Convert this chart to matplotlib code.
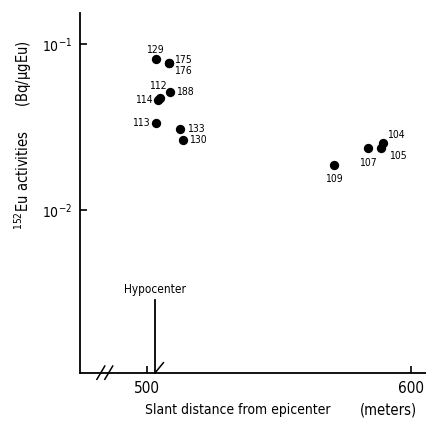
import matplotlib
matplotlib.use("Agg")
import matplotlib.pyplot as plt
import matplotlib.ticker as mticker

plt.rcParams['font.family'] = ['DejaVu Sans']
plt.rcParams['font.stretch'] = 'condensed'
plt.rcParams['mathtext.fontset'] = 'custom'
plt.rcParams['mathtext.rm'] = 'DejaVu Sans:stretch=condensed'
plt.rcParams['mathtext.it'] = 'DejaVu Sans:stretch=condensed'
plt.rcParams['mathtext.bf'] = 'DejaVu Sans:stretch=condensed:bold'

# Data
sample_ids = ['129', '175', '176', '188', '112', '114', '113', '133', '130',
              '109', '107', '104', '105']
slant_distance = [503.4, 508.3, 508.3, 508.8, 504.8, 504.2, 503.4, 512.6, 513.5,
                  570.7, 583.7, 589.4, 588.8]
eu_activity = [0.0812, 0.0769, 0.0769, 0.0512, 0.0472, 0.0460, 0.0336, 0.0306, 0.0263,
               0.0188, 0.0236, 0.0252, 0.0236]
x_ticks = [500, 600]
y_ticks = [0.1, 0.01]
y_tick_labels = ['10$^{-1}$', '10$^{-2}$']
hypocenter_x = 503.0

# label offsets in pixels (dx, dy, ha)
offsets = {
    '129': (-1, 9, 'center'),
    '175': (5, 3, 'left'),
    '176': (5, -8, 'left'),
    '188': (6, 0, 'left'),
    '112': (-2, 12, 'center'),
    '114': (-5, 0, 'right'),
    '113': (-6, 0, 'right'),
    '133': (7, 0, 'left'),
    '130': (6, 0, 'left'),
    '109': (0, -14, 'center'),
    '107': (0, -15, 'center'),
    '104': (4, 8, 'left'),
    '105': (8, -8, 'left'),
}

W, H = 426, 422
fig = plt.figure(figsize=(W / 100, H / 100), dpi=100)
ax = fig.add_axes([80 / W, 1 - 373 / H, (W - 80) / W, (373 - 13) / H])
ax.set_yscale('log')
ax.set_xlim(474.6, 605.7)
ax.set_ylim(10 ** -2.982, 10 ** -0.813)

ax.scatter(slant_distance, eu_activity, s=45, color='black', zorder=3, linewidths=0)

for sid, x, y in zip(sample_ids, slant_distance, eu_activity):
    dx, dy, ha = offsets[sid]
    ax.annotate(sid, (x, y), xytext=(dx, dy), textcoords='offset pixels',
                ha=ha, va='center', fontsize=7.5)

for s in ['top', 'right']:
    ax.spines[s].set_visible(False)
for s in ['left', 'bottom']:
    ax.spines[s].set_linewidth(1.3)

ax.set_xticks(x_ticks)
ax.set_xticklabels([str(v) for v in x_ticks], fontsize=11)
ax.set_yticks(y_ticks)
ax.set_yticklabels(y_tick_labels, fontsize=10)
ax.yaxis.set_minor_locator(mticker.NullLocator())
ax.tick_params(direction='in', length=5, width=1.2, pad=6)

# Hypocenter marker
ax.plot([hypocenter_x, hypocenter_x], [10 ** -2.982, 10 ** -2.545], color='black', lw=1.3,
        clip_on=False)
ax.text(hypocenter_x, 10 ** -2.52, 'Hypocenter', ha='center', va='bottom', fontsize=8.5)
ax.plot([hypocenter_x, hypocenter_x + 3.2], [10 ** -2.982, 10 ** -2.92], color='black', lw=1.1,
        clip_on=False)

# axis break marks
for bx in [482.5, 485.5]:
    ax.plot([bx - 1.5, bx + 1.5], [10 ** -3.02, 10 ** -2.94], color='black', lw=1.1,
            clip_on=False)

fig.text(238 / W, 1 - 410 / H, 'Slant distance from epicenter', ha='center', va='center',
         fontsize=10)
fig.text(388 / W, 1 - 410 / H, '(meters)', ha='center', va='center', fontsize=10.5)
fig.text(23 / W, 1 - 135 / H, '$^{152}$Eu activities      (Bq/μgEu)', ha='center',
         va='center', rotation=90, fontsize=10.5)

fig.savefig('out.png', dpi=100)
